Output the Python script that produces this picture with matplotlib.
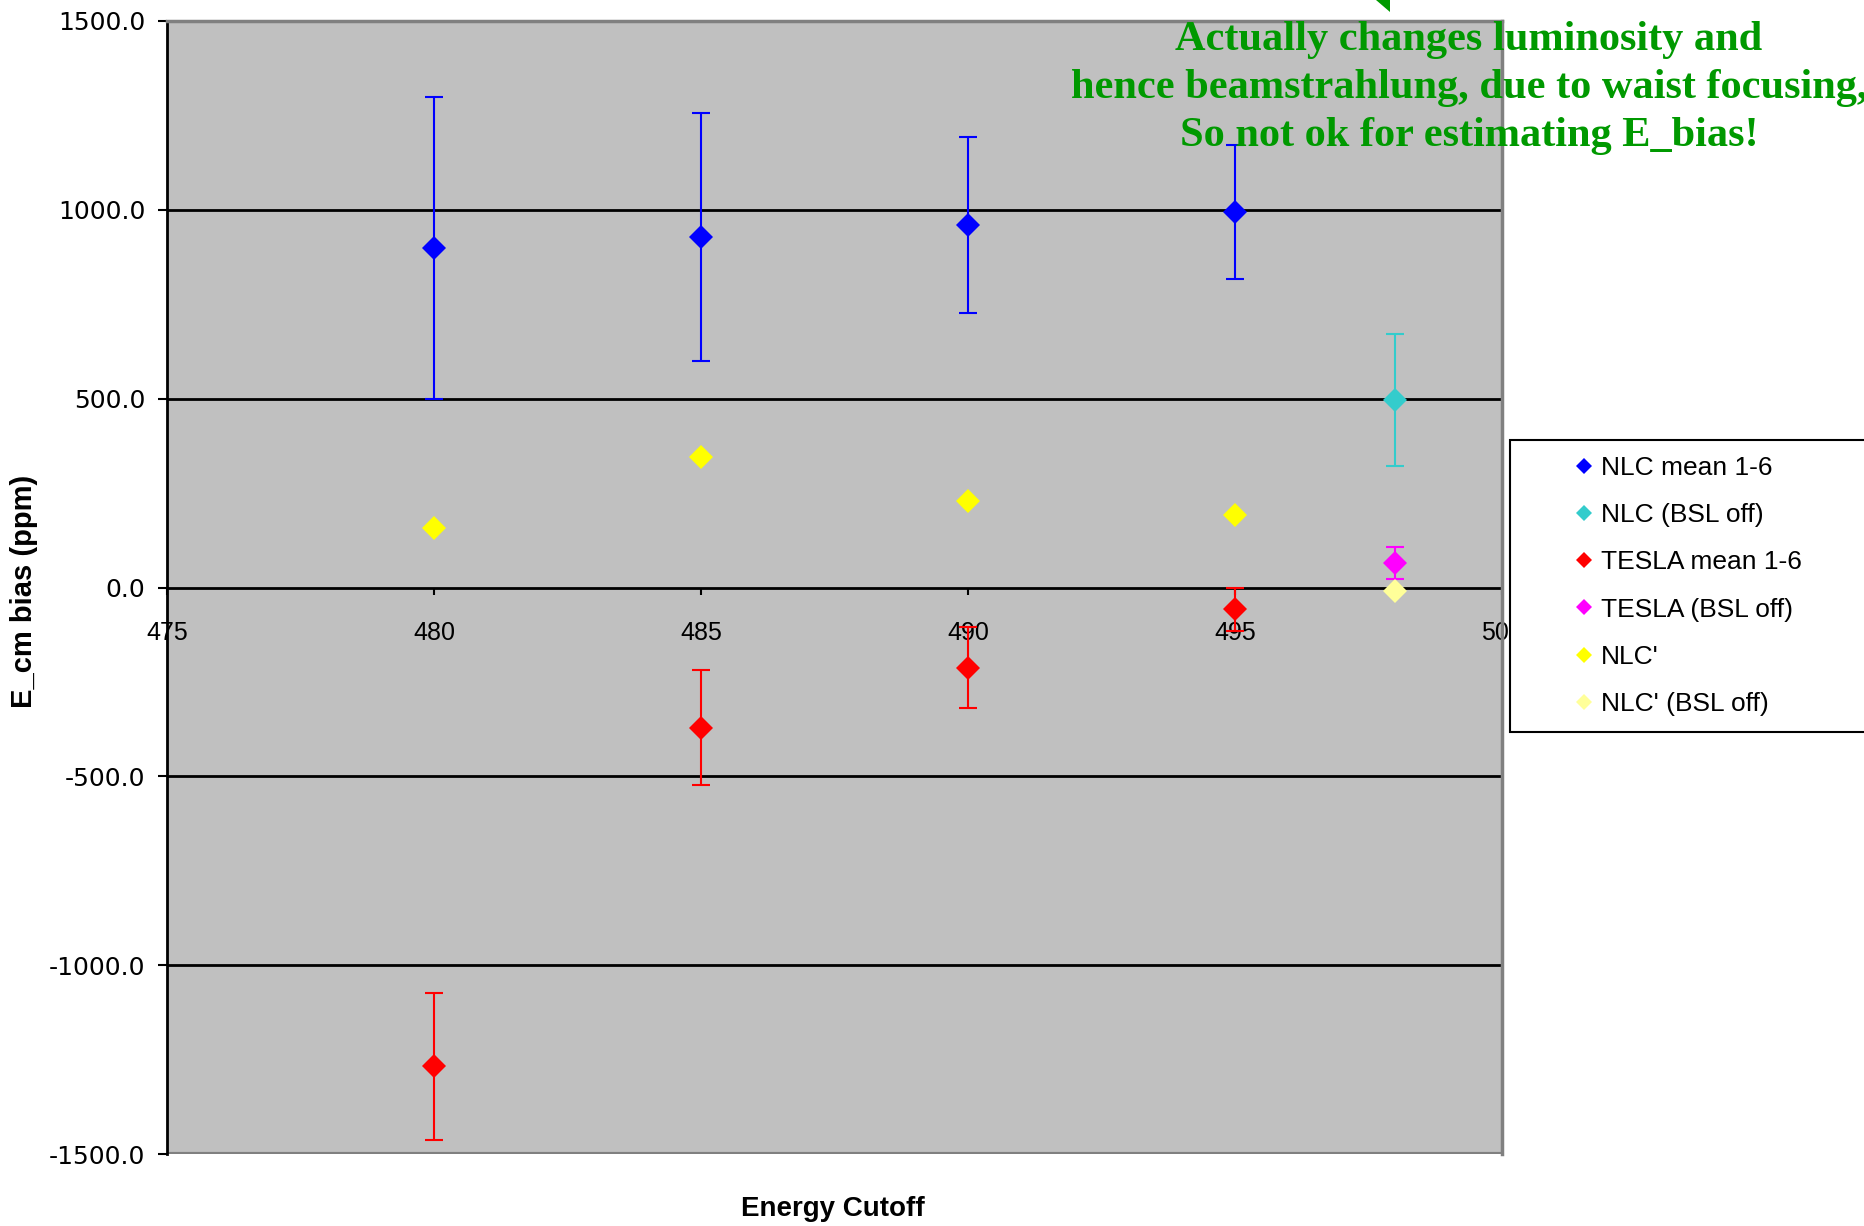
import matplotlib
matplotlib.use("Agg")
import matplotlib.pyplot as plt
from matplotlib.patches import Rectangle

# Data
cutoff = [480, 485, 490, 495]
cutoff_off = [498]

nlc_mean = [899, 929, 960, 994]
nlc_mean_err = [400, 328, 233, 177]

nlc_off = [497]
nlc_off_err = [175]

tesla_mean = [-1268, -371, -212, -58]
tesla_mean_err = [194, 152, 107, 58]

tesla_off = [65]
tesla_off_err = [42]

nlc_prime = [157, 346, 230, 192]
nlc_prime_off = [-9]

y_ticks = [-1500, -1000, -500, 0, 500, 1000, 1500]
x_ticks = [475, 480, 485, 490, 495, 500]

W, H = 1864, 1226
fig = plt.figure(figsize=(W / 100, H / 100), dpi=100)
ax = fig.add_axes([167 / W, 1 - 1154 / H, (1502 - 167) / W, (1154 - 21) / H])

plt.rcParams['font.family'] = ['Liberation Sans', 'DejaVu Sans']

ax.set_facecolor('#c0c0c0')
ax.set_xlim(475, 500)
ax.set_ylim(-1500, 1500)

# horizontal gridlines
for yv in [-1000, -500, 500, 1000]:
    ax.axhline(yv, color='black', lw=2.0, zorder=1)
ax.axhline(-1500, color='#808080', lw=3, zorder=1)

# error bars
eb_kw = dict(fmt='none', capsize=6.5, elinewidth=1.5, capthick=1.5, zorder=3)
ax.errorbar(cutoff, nlc_mean, yerr=nlc_mean_err, ecolor='#0000ff', **eb_kw)
ax.errorbar(cutoff_off, nlc_off, yerr=nlc_off_err, ecolor='#33cccc', **eb_kw)
ax.errorbar(cutoff, tesla_mean, yerr=tesla_mean_err, ecolor='#ff0000', **eb_kw)
ax.errorbar(cutoff_off, tesla_off, yerr=tesla_off_err, ecolor='#ff00ff', **eb_kw)

# markers
mk = dict(marker='D', ms=12, ls='none', zorder=4, mew=0)
h1, = ax.plot(cutoff, nlc_mean, color='#0000ff', label='NLC mean 1-6', **mk)
h2, = ax.plot(cutoff_off, nlc_off, color='#33cccc', label='NLC (BSL off)', **mk)
h3, = ax.plot(cutoff, tesla_mean, color='#ff0000', label='TESLA mean 1-6', **mk)
h4, = ax.plot(cutoff_off, tesla_off, color='#ff00ff', label='TESLA (BSL off)', **mk)
h5, = ax.plot(cutoff, nlc_prime, color='#ffff00', label="NLC'", **mk)
h6, = ax.plot(cutoff_off, nlc_prime_off, color='#ffff99', label="NLC' (BSL off)", **mk)

# spines
ax.spines['left'].set_color('black')
ax.spines['left'].set_linewidth(2)
ax.spines['bottom'].set_position(('data', 0))
ax.spines['bottom'].set_color('black')
ax.spines['bottom'].set_linewidth(2)
ax.spines['bottom'].set_zorder(2)
for s in ['top', 'right']:
    ax.spines[s].set_color('#808080')
    ax.spines[s].set_linewidth(2.5)

ax.set_yticks(y_ticks)
ax.set_yticklabels([f"{v:.1f}" for v in y_ticks])
ax.set_xticks(x_ticks)
ax.set_xticklabels([str(v) for v in x_ticks])
ax.tick_params(axis='y', direction='out', length=6.5, width=1.5, pad=9,
               labelsize=18, colors='black')
ax.tick_params(axis='x', direction='out', length=5, width=1.5, pad=19,
               labelsize=18, colors='black')

# axis titles
fig.text(833 / W, 1 - 1209 / H, 'Energy Cutoff', ha='center', va='center',
         fontsize=20, fontweight='bold')
fig.text(24 / W, 1 - 591 / H, 'E_cm bias (ppm)', ha='center', va='center',
         rotation=90, fontsize=21, fontweight='bold')

# legend box (runs off the right edge like the original)
fig.add_artist(Rectangle((1510 / W, 1 - 732 / H), 400 / W, (732 - 440) / H,
                         transform=fig.transFigure, facecolor='white',
                         edgecolor='black', lw=1.5, zorder=3))
leg = fig.legend(handles=[h1, h2, h3, h4, h5, h6], loc='upper left',
                 bbox_to_anchor=(1572 / W, 1 - 456 / H), frameon=False,
                 fontsize=19, handlelength=0.9, handletextpad=0.2,
                 labelspacing=0.88, borderpad=0, borderaxespad=0,
                 markerscale=0.7)
leg.set_zorder(5)

# green comment
green = '#009900'
fig.text(1469 / W, 1 - 88 / H,
         "Actually changes luminosity and\n"
         "hence beamstrahlung, due to waist focusing,\n"
         "So not ok for estimating E_bias!",
         ha='center', va='center', ma='center', color=green,
         fontsize=30.5, fontweight='bold', family=['Liberation Serif', 'DejaVu Serif'],
         linespacing=1.35, zorder=6)
fig.add_artist(plt.Polygon([(1376 / W, 1.0), (1390 / W, 1.0), (1390 / W, 1 - 12 / H)],
                           closed=True, transform=fig.transFigure,
                           facecolor=green, edgecolor='none', zorder=6))

fig.savefig('out.png', dpi=100)
